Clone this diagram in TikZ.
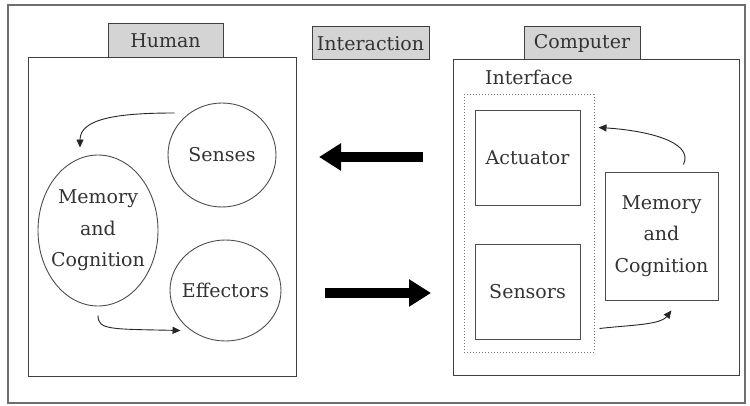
\documentclass[tikz,border=0pt]{standalone}
\usepackage{fontspec}
\setmainfont{DejaVu Serif}
\usetikzlibrary{arrows.meta,shapes.geometric,calc}
\definecolor{tabgray}{RGB}{212,212,212}
\definecolor{framegray}{RGB}{110,110,110}
\tikzset{
  lbl/.style={font=\fontsize{19}{31.5}\selectfont, text=black!80, align=center},
  tab/.style={draw=black!75, line width=1pt, fill=tabgray, inner sep=0pt, lbl},
  panel/.style={draw=black!75, line width=1pt},
  shapeline/.style={draw=black!70, line width=0.9pt},
  oval/.style={shapeline, ellipse, inner sep=0pt},
  thin arrow/.style={draw=black!85, line width=0.9pt, -{Triangle[length=8pt,width=7pt]}},
  big arrow/.style={line width=10pt, -{Triangle[length=22pt,width=26pt]}}
}
\begin{document}
\begin{tikzpicture}[x=1pt,y=-1pt]
\useasboundingbox (0,0) rectangle (750,406);
% outer frame
\node[draw=framegray, line width=1.8pt, minimum width=737pt, minimum height=398pt, inner sep=0pt] (frame) at (376.5,204) {};
% human panel
\node[panel, minimum width=268pt, minimum height=318pt, inner sep=0pt] (human) at (162,217) {};
\node[tab, minimum width=115pt, minimum height=34pt] (htab) at (165.5,41) {Human};
\node[tab, minimum width=117pt, minimum height=33pt] (itab) at (370.5,43.5) {Interaction};
\node[tab, minimum width=116pt, minimum height=33pt] (ctab) at (582,43.5) {Computer};
% computer panel
\node[panel, minimum width=286pt, minimum height=315pt, inner sep=0pt] (comp) at (596,217.5) {};
\node[lbl] (iflabel) at (529,77) {Interface};
\node[draw=black!55, line width=1pt, dotted, minimum width=130pt, minimum height=257pt, inner sep=0pt] (iface) at (529,223.5) {};
\node[shapeline, minimum width=105pt, minimum height=95pt, inner sep=0pt, lbl] (act) at (527.5,158) {Actuator};
\node[shapeline, minimum width=105pt, minimum height=95pt, inner sep=0pt, lbl] (sens) at (527.5,291.5) {Sensors};
\node[shapeline, minimum width=113pt, minimum height=128pt, inner sep=0pt, lbl] (cmem) at (661.5,236) {Memory\\and\\Cognition};
% human shapes
\node[oval, minimum width=108pt, minimum height=104pt, label={[lbl]center:Senses}] (sen) at (222,155) {};
\node[oval, minimum width=120pt, minimum height=151pt, label={[lbl]center:{Memory\\and\\Cognition}}] (hmem) at (98,230.5) {};
\node[oval, minimum width=111pt, minimum height=101pt, label={[lbl]center:Effectors}] (eff) at (225.5,290.5) {};
% internal arrows
\coordinate (a1s) at ($(sen.west)+(7,-42)$);
\coordinate (a1e) at ($(hmem.north)+(-18,-7)$);
\draw[thin arrow] (a1s) .. controls (120,113) and (80,118) .. (a1e);
\coordinate (a2s) at ($(hmem.south)+(0,9)$);
\coordinate (a2e) at ($(eff.west)+(11,40)$);
\draw[thin arrow] (a2s) .. controls (98,330) and (110,329) .. (a2e);
\coordinate (a3s) at ($(cmem.north east)+(-35,-7)$);
\coordinate (a3e) at ($(iface.east)+(4,-96)$);
\draw[thin arrow] (a3s) .. controls (695,140) and (640,130) .. (a3e);
\coordinate (a4s) at ($(iface.east)+(5,105)$);
\coordinate (a4e) at ($(cmem.south)+(10,10)$);
\draw[thin arrow] (a4s) .. controls (630,325) and (660,325) .. (a4e);
% big arrows
\coordinate (b1s) at (423,157);
\coordinate (b1e) at (319,157);
\draw[big arrow] (b1s) -- (b1e);
\coordinate (b2s) at (325,293);
\coordinate (b2e) at (431,293);
\draw[big arrow] (b2s) -- (b2e);
\end{tikzpicture}
\end{document}
